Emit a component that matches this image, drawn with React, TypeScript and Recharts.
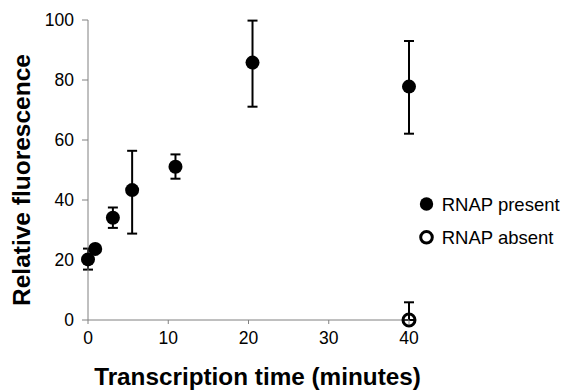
import React from 'react';
import { ScatterChart, Scatter, XAxis, YAxis, ErrorBar, Legend } from 'recharts';

const presentTimes = [0, 0.9, 3.1, 5.5, 10.9, 20.5, 40];
const presentValues = [20.2, 23.7, 34.1, 43.3, 51.1, 85.8, 77.8];
const presentErrLow = [3.4, 0, 3.4, 14.5, 4.0, 14.7, 15.7];
const presentErrHigh = [3.6, 0, 3.4, 13.1, 4.1, 14.0, 15.2];

const absentTimes = [40];
const absentValues = [0];
const absentErrLow = [0];
const absentErrHigh = [5.9];

const xTicks = [0, 10, 20, 30, 40];
const yTicks = [0, 20, 40, 60, 80, 100];

const seriesNames = ['RNAP present', 'RNAP absent'];
const xTitle = 'Transcription time (minutes)';
const yTitle = 'Relative fluorescence';

const FONT = '"Liberation Sans", Arial, Helvetica, sans-serif';

const presentData = presentTimes.map((t, i) => ({
  x: t,
  y: presentValues[i],
  err: [presentErrLow[i], presentErrHigh[i]],
}));
const absentData = absentTimes.map((t, i) => ({
  x: t,
  y: absentValues[i],
  err: [absentErrLow[i], absentErrHigh[i]],
}));

const FilledDot = (p: any) => <circle cx={p.cx} cy={p.cy} r={7} fill="#000" />;
const OpenDot = (p: any) => (
  <circle cx={p.cx} cy={p.cy} r={6} fill="none" stroke="#000" strokeWidth={3} />
);

const LegendContent = () => (
  <svg width={150} height={62} style={{ display: 'block' }}>
    <circle cx={11.5} cy={14} r={6.7} fill="#000" />
    <text x={26.7} y={20.8} fontSize={18.5} fontFamily={FONT} fill="#000">
      {seriesNames[0]}
    </text>
    <circle cx={11.5} cy={47.3} r={5.8} fill="none" stroke="#000" strokeWidth={3} />
    <text x={26.7} y={53.5} fontSize={18.5} fontFamily={FONT} fill="#000">
      {seriesNames[1]}
    </text>
  </svg>
);

export default function App() {
  return (
    <div style={{ position: 'absolute', left: 0, top: 0, width: 565, height: 391, background: '#fff' }}>
      <ScatterChart
        width={565}
        height={391}
        margin={{ top: 20, right: 156, bottom: 41, left: 28 }}
      >
        <XAxis
          type="number"
          dataKey="x"
          domain={[0, 40]}
          ticks={xTicks}
          height={30}
          tickSize={4}
          tickMargin={8}
          axisLine={{ stroke: '#808080', strokeWidth: 1 }}
          tickLine={{ stroke: '#808080', strokeWidth: 1 }}
          tick={{ fill: '#000', fontSize: 17.5, fontFamily: FONT }}
          label={{
            position: 'center',
            content: (props: any) => {
              const vb = props.viewBox || { x: 88, y: 320, width: 320, height: 30 };
              return (
                <text
                  x={vb.x + vb.width / 2 + 9}
                  y={vb.y + vb.height + 35}
                  textAnchor="middle"
                  fontSize={24.3}
                  fontWeight="bold"
                  fontFamily={FONT}
                  fill="#000"
                >
                  {xTitle}
                </text>
              );
            },
          }}
        />
        <YAxis
          type="number"
          dataKey="y"
          domain={[0, 100]}
          ticks={yTicks}
          width={60}
          tickSize={6}
          tickMargin={8}
          axisLine={{ stroke: '#808080', strokeWidth: 1 }}
          tickLine={{ stroke: '#808080', strokeWidth: 1 }}
          tick={{ fill: '#000', fontSize: 17.5, fontFamily: FONT }}
          label={{
            position: 'center',
            content: (props: any) => {
              const vb = props.viewBox || { x: 28, y: 20, width: 60, height: 300 };
              const cx = vb.x - 7;
              const cy = vb.y + vb.height / 2 + 10;
              return (
                <text
                  x={cx}
                  y={cy}
                  transform={`rotate(-90, ${cx}, ${cy})`}
                  textAnchor="middle"
                  dominantBaseline="central"
                  fontSize={24.5}
                  fontWeight="bold"
                  fontFamily={FONT}
                  fill="#000"
                >
                  {yTitle}
                </text>
              );
            },
          }}
        />
        <Legend
          layout="vertical"
          align="center"
          verticalAlign="middle"
          wrapperStyle={{ position: 'absolute', left: 415, top: 190, width: 150 }}
          content={() => <LegendContent />}
        />
        <Scatter
          name={seriesNames[0]}
          data={presentData}
          shape={FilledDot}
          isAnimationActive={false}
        >
          <ErrorBar dataKey="err" direction="y" width={5} strokeWidth={2} stroke="#000" />
        </Scatter>
        <Scatter
          name={seriesNames[1]}
          data={absentData}
          shape={OpenDot}
          isAnimationActive={false}
        >
          <ErrorBar dataKey="err" direction="y" width={5} strokeWidth={2} stroke="#000" />
        </Scatter>
      </ScatterChart>
    </div>
  );
}
